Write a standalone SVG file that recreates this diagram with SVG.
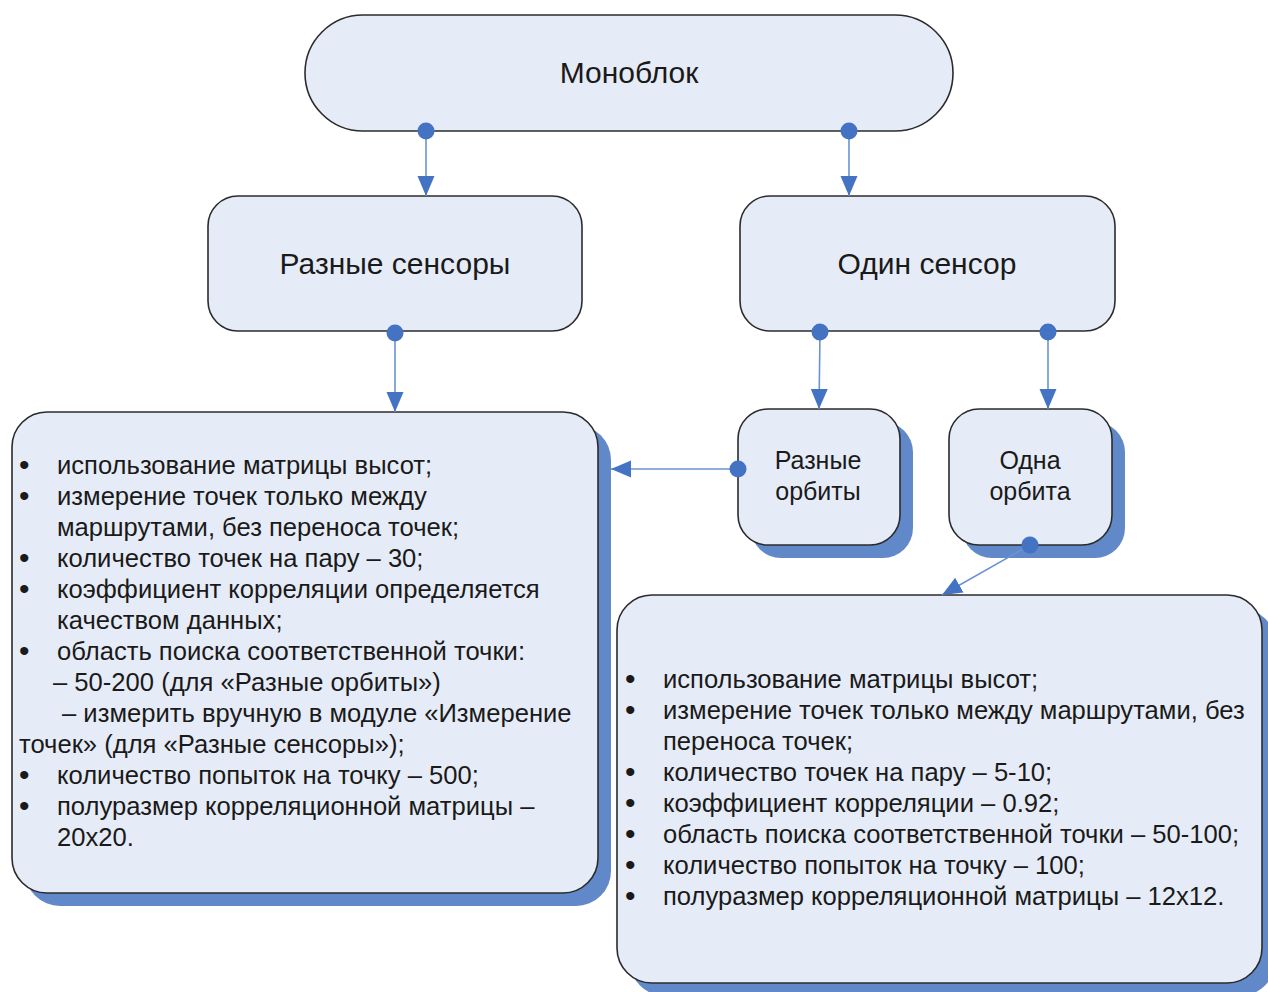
<svg xmlns="http://www.w3.org/2000/svg" width="1268" height="992" viewBox="0 0 1268 992">
<defs>
<style>
.box{fill:#E6ECF7;stroke:#2b2b2b;stroke-width:1.6}
.shadow{fill:#6189C9}
.t{font-family:"Liberation Sans",Arial,sans-serif;fill:#1a1a1a}
.title{font-size:30px;text-anchor:middle}
.small{font-size:25px;text-anchor:middle}
.list{font-size:25.6px}
.b{font-size:30px}
.conn{stroke:#6A93D2;stroke-width:1.6;fill:none;marker-start:url(#dot);marker-end:url(#arrow)}
</style>
<marker id="arrow" markerUnits="userSpaceOnUse" markerWidth="20" markerHeight="20" viewBox="0 0 20 20" refX="20" refY="10" orient="auto">
<path d="M0,1.5 L20,10 L0,18.5 Z" fill="#4573C3"/>
</marker>
<marker id="dot" markerUnits="userSpaceOnUse" markerWidth="20" markerHeight="20" viewBox="0 0 20 20" refX="10" refY="10" orient="auto">
<circle cx="10" cy="10" r="8.5" fill="#4573C3"/>
</marker>
</defs>
<rect width="1268" height="992" fill="#ffffff"/>

<g id="node-monoblok">
<rect class="box" x="305" y="15" width="648" height="116" rx="58" ry="58"/>
<text class="t title" x="629" y="83">Моноблок</text>
</g>

<g id="node-raznye-sensory">
<rect class="box" x="208" y="196" width="374" height="135" rx="30" ry="30"/>
<text class="t title" x="395" y="274">Разные сенсоры</text>
</g>

<g id="node-odin-sensor">
<rect class="box" x="740" y="196" width="375" height="135" rx="30" ry="30"/>
<text class="t title" x="927" y="274">Один сенсор</text>
</g>

<g id="node-raznye-orbity">
<rect class="shadow" x="751" y="422" width="162" height="136" rx="30" ry="30"/>
<rect class="box" x="738" y="409" width="162" height="136" rx="30" ry="30"/>
<text class="t small" x="818" y="469">Разные</text>
<text class="t small" x="818" y="500">орбиты</text>
</g>

<g id="node-odna-orbita">
<rect class="shadow" x="962" y="422" width="163" height="136" rx="30" ry="30"/>
<rect class="box" x="949" y="409" width="163" height="136" rx="30" ry="30"/>
<text class="t small" x="1030" y="469">Одна</text>
<text class="t small" x="1030" y="500">орбита</text>
</g>

<g id="node-left-list">
<rect class="shadow" x="25" y="425" width="586" height="481" rx="35" ry="35"/>
<rect class="box" x="12" y="412" width="586" height="481" rx="35" ry="35"/>
<g class="t list">
<text y="474"><tspan class="b" x="19" dy="1">•</tspan><tspan x="57" dy="-1">использование матрицы высот;</tspan></text>
<text y="505"><tspan class="b" x="19" dy="1">•</tspan><tspan x="57" dy="-1">измерение точек только между</tspan></text>
<text x="57" y="536">маршрутами, без переноса точек;</text>
<text y="567"><tspan class="b" x="19" dy="1">•</tspan><tspan x="57" dy="-1">количество точек на пару – 30;</tspan></text>
<text y="598"><tspan class="b" x="19" dy="1">•</tspan><tspan x="57" dy="-1">коэффициент корреляции определяется</tspan></text>
<text x="57" y="629">качеством данных;</text>
<text y="660"><tspan class="b" x="19" dy="1">•</tspan><tspan x="57" dy="-1">область поиска соответственной точки:</tspan></text>
<text x="53" y="691">– 50-200 (для «Разные орбиты»)</text>
<text x="62" y="722">– измерить вручную в модуле «Измерение</text>
<text x="19" y="753">точек» (для «Разные сенсоры»);</text>
<text y="784"><tspan class="b" x="19" dy="1">•</tspan><tspan x="57" dy="-1">количество попыток на точку – 500;</tspan></text>
<text y="815"><tspan class="b" x="19" dy="1">•</tspan><tspan x="57" dy="-1">полуразмер корреляционной матрицы –</tspan></text>
<text x="57" y="846">20x20.</text>
</g>
</g>

<g id="node-right-list">
<rect class="shadow" x="630" y="608" width="645" height="388" rx="35" ry="35"/>
<rect class="box" x="617" y="595" width="645" height="388" rx="35" ry="35"/>
<g class="t list">
<text y="688"><tspan class="b" x="625" dy="1">•</tspan><tspan x="663" dy="-1">использование матрицы высот;</tspan></text>
<text y="719"><tspan class="b" x="625" dy="1">•</tspan><tspan x="663" dy="-1">измерение точек только между маршрутами, без</tspan></text>
<text x="663" y="750">переноса точек;</text>
<text y="781"><tspan class="b" x="625" dy="1">•</tspan><tspan x="663" dy="-1">количество точек на пару – 5-10;</tspan></text>
<text y="812"><tspan class="b" x="625" dy="1">•</tspan><tspan x="663" dy="-1">коэффициент корреляции – 0.92;</tspan></text>
<text y="843"><tspan class="b" x="625" dy="1">•</tspan><tspan x="663" dy="-1">область поиска соответственной точки – 50-100;</tspan></text>
<text y="874"><tspan class="b" x="625" dy="1">•</tspan><tspan x="663" dy="-1">количество попыток на точку – 100;</tspan></text>
<text y="905"><tspan class="b" x="625" dy="1">•</tspan><tspan x="663" dy="-1">полуразмер корреляционной матрицы – 12x12.</tspan></text>
</g>
</g>

<g id="connectors">
<line class="conn" x1="426" y1="131" x2="426" y2="196"/>
<line class="conn" x1="849" y1="131" x2="849" y2="196"/>
<line class="conn" x1="395" y1="333" x2="395" y2="412"/>
<line class="conn" x1="820" y1="332" x2="819" y2="409"/>
<line class="conn" x1="1048" y1="332" x2="1048" y2="409"/>
<line class="conn" x1="738" y1="469" x2="611" y2="469"/>
<line class="conn" x1="1030" y1="545" x2="942" y2="595"/>
</g>
</svg>
